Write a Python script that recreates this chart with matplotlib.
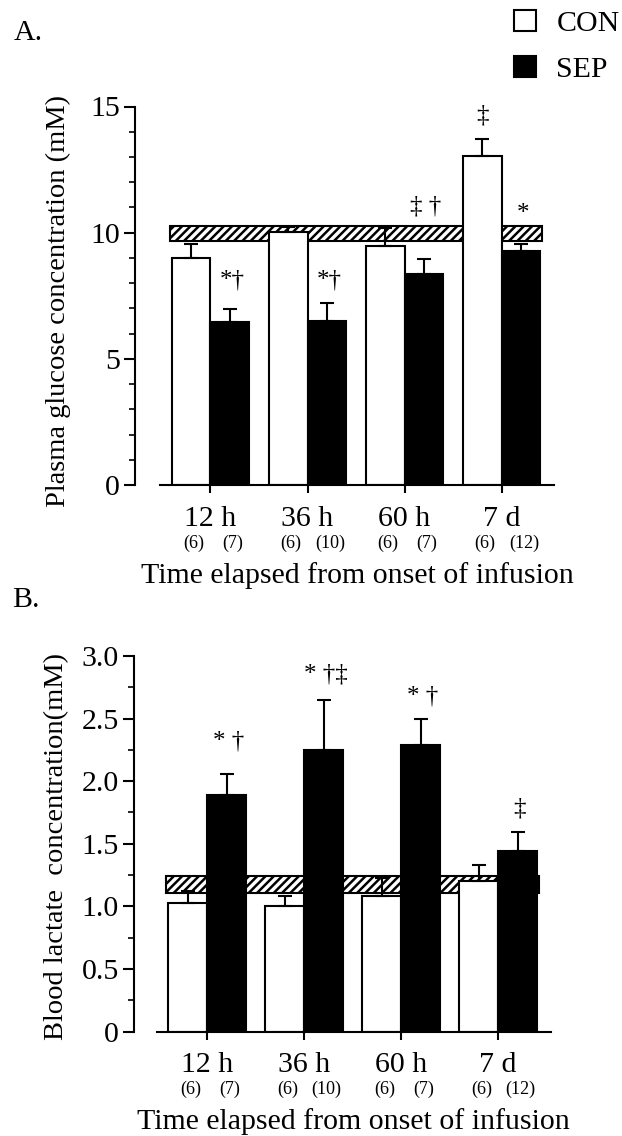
import numpy as np
import matplotlib.pyplot as plt
from matplotlib.patches import Rectangle

plt.rcParams['font.family'] = ['Liberation Serif', 'DejaVu Serif']
plt.rcParams['hatch.linewidth'] = 1.8

times = ['12 h', '36 h', '60 h', '7 d']
groups = ['CON', 'SEP']
n_con = ['(6)', '(6)', '(6)', '(6)']
n_sep = ['(7)', '(10)', '(7)', '(12)']

# A. plasma glucose (mM)
glu_con = [9.0, 10.02, 9.47, 13.04]
glu_con_err = [0.55, 0.2, 0.7, 0.66]
glu_sep = [6.47, 6.51, 8.35, 9.29]
glu_sep_err = [0.5, 0.72, 0.6, 0.26]
glu_band = [9.68, 10.27]  # normal range
glu_marks_con = ['', '', '', '‡']
glu_marks_sep = ['*†', '*†', '‡ †', '*']
glu_mark_y_con = [0, 0, 0, 14.63]
glu_mark_y_sep = [8.1, 8.1, 11.04, 10.74]

# B. blood lactate (mM)
lac_con = [1.03, 1.0, 1.08, 1.2]
lac_con_err = [0.09, 0.08, 0.15, 0.13]
lac_sep = [1.89, 2.25, 2.29, 1.44]
lac_sep_err = [0.17, 0.4, 0.21, 0.15]
lac_band = [1.11, 1.24]
lac_marks_con = ['', '', '', '']
lac_marks_sep = ['* †', '* †‡', '* †', '‡']
lac_mark_y_con = [0, 0, 0, 0]
lac_mark_y_sep = [2.32, 2.85, 2.68, 1.78]

W, H = 622, 1136
fig = plt.figure(figsize=(W / 100, H / 100), dpi=100)
FS = 21.5


def panel(ax, con, con_err, sep, sep_err, band, mk_con, mk_sep, my_con, my_sep,
          ymax, yticks, ylabels, minor, ylabel, spine_out, ylab_x, ylab_y):
    x = np.arange(len(times))
    w = 0.4
    # hatched normal range behind the bars
    ax.add_patch(Rectangle((x[0] - w - 0.02, band[0]), x[-1] - x[0] + 2 * w + 0.04,
                           band[1] - band[0], facecolor='white', edgecolor='black',
                           hatch='////', lw=1.5, zorder=1))
    b1 = ax.bar(x - w / 2, con, w, color='white', edgecolor='black', lw=1.5, zorder=2)
    b2 = ax.bar(x + w / 2, sep, w, color='black', edgecolor='black', lw=1.5, zorder=2)
    zero = np.zeros(len(x))
    ax.errorbar(x - w / 2, con, yerr=[zero, con_err], fmt='none', ecolor='black',
                elinewidth=1.5, capsize=5, capthick=1.5, zorder=3)
    ax.errorbar(x + w / 2, sep, yerr=[zero, sep_err], fmt='none', ecolor='black',
                elinewidth=1.5, capsize=5, capthick=1.5, zorder=3)
    for i in range(len(x)):
        if mk_con[i]:
            ax.text(x[i] - w / 2, my_con[i], mk_con[i], ha='center', va='center', fontsize=18)
        if mk_sep[i]:
            ax.text(x[i] + w / 2 + 0.02, my_sep[i], mk_sep[i], ha='center', va='center', fontsize=18)
        ax.annotate(n_con[i], xy=(x[i] - 0.17, 0), xycoords=('data', 'axes fraction'),
                    xytext=(0, -42), textcoords='offset points', ha='center', va='center',
                    fontsize=13)
        ax.annotate(n_sep[i], xy=(x[i] + 0.23, 0), xycoords=('data', 'axes fraction'),
                    xytext=(0, -42), textcoords='offset points', ha='center', va='center',
                    fontsize=13)
    ax.annotate('Time elapsed from onset of infusion', xy=(0.5, 0), xycoords='axes fraction',
                xytext=(0, -65), textcoords='offset points', ha='center', va='center',
                fontsize=FS)

    ax.set_xlim(-0.52, 3.54)
    ax.set_ylim(0, ymax)
    ax.set_xticks(x)
    ax.set_xticklabels(times)
    ax.set_yticks(yticks)
    ax.set_yticklabels(ylabels)
    ax.set_yticks(np.arange(0, ymax + 1e-9, minor), minor=True)
    ax.tick_params(axis='x', length=6, width=1.5, pad=9, labelsize=FS)
    ax.tick_params(axis='y', which='major', length=8, width=1.5, pad=3, labelsize=FS)
    ax.tick_params(axis='y', which='minor', length=4, width=1.2)
    for s in ['top', 'right']:
        ax.spines[s].set_visible(False)
    ax.spines['left'].set_position(('outward', spine_out))
    ax.spines['left'].set_linewidth(1.5)
    ax.spines['bottom'].set_linewidth(1.5)
    ax.set_ylabel(ylabel, fontsize=20.5, va='center')
    ax.yaxis.set_label_coords(ylab_x, ylab_y)
    return b1, b2


ax_a = fig.add_axes([160 / W, 1 - 485 / H, 394 / W, 378.5 / H])
b1, b2 = panel(ax_a, glu_con, glu_con_err, glu_sep, glu_sep_err, glu_band,
               glu_marks_con, glu_marks_sep, glu_mark_y_con, glu_mark_y_sep,
               15, [0, 5, 10, 15], ['0', '5', '10', '15'], 1,
               'Plasma glucose concentration (mM)', 18, -0.259, 0.486)

ax_b = fig.add_axes([156.7 / W, 1 - 1031.5 / H, 393.8 / W, 375.5 / H])
panel(ax_b, lac_con, lac_con_err, lac_sep, lac_sep_err, lac_band,
      lac_marks_con, lac_marks_sep, lac_mark_y_con, lac_mark_y_sep,
      3.0, [0, 0.5, 1.0, 1.5, 2.0, 2.5, 3.0], ['0', '0.5', '1.0', '1.5', '2.0', '2.5', '3.0'],
      0.25, 'Blood lactate  concentration(mM)', 16.3, -0.253, 0.494)

ax_a.legend(handles=[b1, b2], labels=groups, loc='upper left',
            bbox_to_anchor=(514 / W, 1 - 10 / H), bbox_transform=fig.transFigure,
            frameon=False, fontsize=FS, handlelength=0.72, handleheight=0.72,
            handletextpad=0.7, labelspacing=0.62, borderpad=0, borderaxespad=0)

fig.text(14 / W, 1 - 40 / H, 'A.', fontsize=FS, va='baseline')
fig.text(12 / W, 1 - 607 / H, 'B.', fontsize=FS, va='baseline')

fig.savefig('out.png', dpi=100)
